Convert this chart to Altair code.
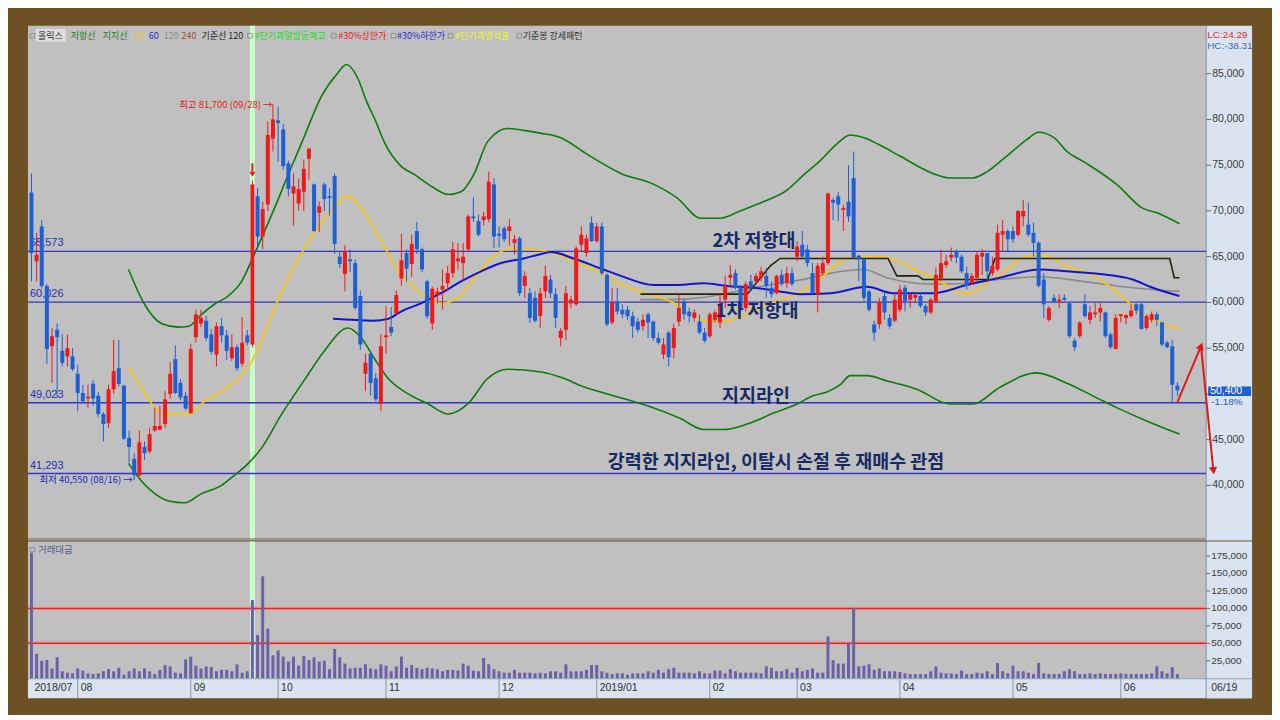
import altair as alt
import pandas as pd

# ---------------- data ----------------
OPEN = [72000,64500,68300,61800,55200,57000,54700,54100,54100,52200,
        50100,49500,51100,49800,47800,46800,50500,52800,50900,45200,
        42900,41100,44200,43700,46000,46100,46700,50000,53800,51200,
        49800,47900,56200,57700,58000,56500,54300,57400,56400,53900,
        55100,53300,56400,55400,71600,67200,70700,77900,79900,78900,
        75200,71900,70800,72100,75700,72900,69800,72900,71600,73800,
        65000,63100,64700,64300,60700,52200,54400,51700,48900,56200,
        57300,58800,62600,65400,64200,67800,65800,62300,57700,60800,
        61400,62100,63200,64500,64300,65800,69400,68900,69000,69100,
        72900,67500,68100,67800,66500,67000,61800,61000,60500,58500,
        61200,62500,60900,56100,57000,59900,59800,66300,65400,68700,
        66700,68300,63000,57800,60100,59200,59200,58500,57900,57400,
        58700,57900,56100,54300,56700,55000,57900,60100,59000,58300,
        57900,56700,56300,58100,57800,60300,62700,63200,61600,59400,
        62300,62300,62700,62900,61600,61000,63000,62100,63200,65000,
        66300,65800,63200,60900,63200,64300,71200,71600,70100,71000,
        73600,65100,64700,61200,57600,57600,60700,58300,58000,59200,
        61600,60300,60500,60700,59600,58900,60100,62500,64100,64900,
        65600,65000,63200,62100,62700,65000,65400,63200,63600,67400,
        67800,67800,67400,69400,68500,67600,66500,62500,58100,60500,
        60100,60500,59900,55800,56300,59800,58100,58700,58900,58900,
        56500,54900,58500,58300,58500,59800,59800,57200,58100,58700,
        57800,55600,55200,50900]
HIGH = [74100,67600,69000,62000,57200,57700,56500,56500,55000,53200,
        51000,51000,51500,50200,48000,51000,55900,55900,51000,46000,
        43500,46000,44800,46300,48500,48700,50300,53500,55300,51600,
        50200,55500,59200,59200,58500,57100,57800,58300,57000,56500,
        55400,58400,57000,73300,72500,71000,79800,81700,81400,79500,
        75500,74100,73500,75600,76900,73000,71000,73100,72500,74100,
        65500,66300,65800,64700,61300,54400,54600,52300,56500,59600,
        59500,61300,67500,65800,67400,68800,66000,62500,61700,61600,
        63600,64000,66600,66500,66500,69600,71500,69600,69900,74300,
        73600,68300,68300,69100,67400,67200,63400,61600,61200,61600,
        64000,63000,61600,57200,61800,60700,66100,68300,67400,69400,
        68700,68700,63200,61600,61600,59800,59600,59000,58300,58700,
        58900,58000,56700,56100,56900,57600,60900,60300,59400,59200,
        58700,57200,58900,59200,61000,62900,64100,63600,61900,62300,
        63000,63200,63900,63800,62300,63000,63600,63900,63800,66700,
        67800,66300,64300,64300,65000,72000,71400,72100,70700,75000,
        76500,65200,64900,61400,58000,60500,61200,58700,61000,61900,
        61900,61000,61000,61000,59800,60500,63800,65800,65200,66000,
        65800,65200,63900,63200,65600,65800,65400,65000,68500,69000,
        68000,68300,70100,71200,70900,68700,66700,63200,59600,60900,
        60900,60900,60000,56100,57900,60900,59600,59900,59900,59000,
        56700,58700,58700,58700,59800,59900,59900,58700,59000,59000,
        57900,55800,55900,51300]
LOW = [62300,62300,61500,53300,51200,49600,53000,53000,52500,48100,
       49000,48500,48700,47500,44800,46300,50000,50800,45000,42500,
       40550,41000,42800,43500,45800,46000,46300,49500,50000,49300,
       48200,47800,55600,57300,55800,54300,53000,55600,53700,53600,
       52500,53000,55300,55100,65900,65800,70000,76500,75400,74500,
       71600,68400,70000,70000,73400,67700,67700,70000,69500,65300,
       63800,61200,63300,59200,54800,50300,49800,49200,48100,54400,
       56300,58600,61800,62300,62800,65300,63300,58200,57000,59900,
       59200,61300,62700,63600,62400,65500,68800,67200,68400,68800,
       65900,66000,66600,66200,65200,60700,60500,57800,57800,57200,
       60500,60500,57200,55200,55900,59400,59600,65600,65000,66600,
       66500,63000,57400,57600,58700,58300,58100,56100,56700,56900,
       56100,55800,55400,53800,53000,53900,57400,58100,57800,57900,
       56500,55600,56100,57800,57200,59400,61800,61400,59000,59000,
       61200,61900,62300,60500,60500,60900,61800,61600,61800,64500,
       64900,63900,60900,58900,63000,64100,69000,68900,67800,68800,
       64800,62300,60100,59000,55800,57100,58100,57100,57800,58900,
       59000,59400,60000,59400,58500,58700,59900,62300,63800,64500,
       64300,63200,61400,61900,62300,63000,62300,62900,63400,65600,
       65600,66500,67200,68300,67200,65000,61600,58300,57900,59900,
       59400,60100,56100,54700,56100,58300,57600,58300,57900,56100,
       54900,54900,57800,57600,58300,58700,57000,57000,57800,57400,
       55200,55000,48900,49800]
CLOSE = [65400,65200,61800,54900,56300,56200,53400,55000,52700,50100,
         49200,49700,49500,47800,46700,50500,52500,51100,45100,44200,
         41100,44700,43500,45600,46500,46500,49400,52200,50100,49600,
         48400,54900,58700,58300,56100,54600,57400,56400,54700,55100,
         52800,55600,55600,72900,67200,70200,78300,80000,79600,74900,
         72400,72700,72400,74600,76800,67800,70500,71300,71400,66400,
         64200,65600,64500,59400,55400,53400,51200,49400,55200,56400,
         56700,60800,64600,63700,66400,65800,63600,58500,61500,61200,
         61800,63200,65800,64800,65000,69400,69200,67400,69400,73200,
         67200,67300,66900,68300,66900,61000,62900,58300,58000,61000,
         62900,61000,58300,56900,61000,60300,65900,67400,67000,66700,
         68300,63200,57600,60000,59000,58700,58500,57400,57000,58100,
         57800,56100,55600,55400,54000,57200,59400,58700,58500,58900,
         56700,55800,58700,58900,59800,61800,63000,61600,59400,62000,
         61600,62900,63400,61800,60900,62900,62000,63200,62000,66100,
         65000,64300,61000,64000,64300,71900,70900,70700,70300,69400,
         64900,64700,60500,59200,56700,60000,58900,57400,60300,61400,
         60100,60900,60800,59600,58900,60300,63000,64300,64500,65200,
         64900,63400,61800,62900,65200,65400,63400,64000,67600,67800,
         66900,66900,70000,70000,67400,66500,61800,59800,59400,60100,
         60300,60300,56300,55100,57800,58500,58900,58900,59400,56300,
         55100,58300,58700,58600,59100,59100,57100,58500,58700,58100,
         55400,55100,51000,50400]
VOLUME_K = [180,35,25,26,14,30,10,8,7,14,
            11,7,6,7,10,13,10,15,5,10,
            14,10,14,10,6,12,19,17,8,7,
            27,31,18,14,17,16,10,12,12,10,
            20,8,10,112,62,146,71,33,40,31,
            24,31,18,32,26,30,24,25,13,42,
            30,21,14,15,15,20,14,13,20,18,
            10,17,31,15,19,15,13,15,14,13,
            10,12,12,11,21,18,11,10,29,20,
            13,10,8,8,12,8,8,8,7,8,
            7,10,10,8,20,10,10,10,12,19,
            19,10,8,6,7,7,5,7,7,7,
            10,8,12,8,13,15,8,8,8,7,
            10,7,7,11,11,7,13,10,8,8,
            8,8,7,17,15,10,10,13,8,15,
            10,12,14,8,8,60,26,21,21,50,
            101,17,18,20,12,14,10,10,10,9,
            7,6,6,6,6,10,17,8,7,7,
            6,11,6,6,8,7,10,6,22,10,
            7,18,10,10,8,6,22,7,6,6,
            6,10,13,10,6,6,7,6,7,6,
            6,6,7,6,6,6,6,6,7,17,
            10,7,16,6]

LEVELS = [65573, 60026, 49023, 41293]
VOL_LEVELS = [100000, 50000]
PRICE_TICKS = [40000, 45000, 50000, 55000, 60000, 65000, 70000, 75000, 80000, 85000]
VOL_TICKS = [25000, 50000, 75000, 100000, 125000, 150000, 175000]
MONTH_START = [0, 9, 31, 48, 69, 91, 110, 132, 149, 169, 191, 212]
MONTH_LABEL = ["2018/07", "08", "09", "10", "11", "12", "2019/01", "02", "03", "04", "05", "06"]
HIGHLIGHT_DAY = [43]
LAST_PRICE = 50400

UPPER_BAND = [(18.9, 63600), (22.0, 59800), (25.3, 57700), (28.6, 57300), (30.6, 57400), (33.1, 58700),
              (35.6, 59800), (38.3, 60700), (40.9, 62300), (43.4, 65300), (47.3, 70300), (50.0, 74000),
              (53.0, 78000), (56.4, 82500), (59.5, 85000), (61.3, 86000), (63.5, 84500), (65.2, 82000),
              (67.0, 79800), (68.6, 77600), (71.9, 74900), (74.5, 74000), (77.8, 72700), (81.1, 71800),
              (83.6, 72100), (86.1, 74000), (88.8, 77600), (92.7, 79000), (95.8, 78800), (99.0, 78500),
              (103.0, 78000), (108.1, 76200), (114.7, 74100), (121.1, 72900), (125.7, 71400), (130.2, 69200),
              (134.1, 69200), (137.9, 70000), (142.4, 71000), (147.1, 72300), (150.0, 73800), (153.5, 75500),
              (156.7, 77300), (159.3, 78300), (162.0, 78000), (165.1, 77200), (169.0, 76000), (175.4, 74100),
              (178.7, 73600), (183.2, 73600), (186.0, 74300), (189.8, 76000), (193.7, 77800), (196.0, 78600),
              (199.0, 78000), (201.5, 76500), (205.0, 75300), (211.2, 72900), (216.2, 70300), (219.5, 69700),
              (223.4, 68600)]
LOWER_BAND = [(18.9, 42400), (20.5, 41100), (24.0, 39100), (26.7, 38300), (29.8, 38100), (33.1, 39100),
              (37.0, 40000), (39.5, 41100), (42.2, 42400), (44.8, 44100), (48.6, 47700), (53.1, 51500),
              (57.0, 54700), (61.6, 57200), (64.2, 56100), (66.7, 53900), (69.4, 51700), (73.3, 50000),
              (77.2, 48900), (81.1, 47800), (84.9, 48900), (88.8, 51700), (92.7, 52700), (99.2, 52400),
              (103.6, 51700), (106.9, 50900), (113.3, 49800), (119.9, 48700), (126.3, 47300), (130.8, 46100),
              (134.6, 46100), (139.3, 46700), (144.4, 47900), (149.0, 48900), (152.1, 49800), (154.8, 50200),
              (157.4, 51000), (159.3, 52000), (162.6, 52000), (166.5, 51400), (172.3, 50500), (178.7, 48900),
              (183.2, 48900), (188.4, 50700), (195.6, 52300), (201.4, 51200), (207.9, 49400), (211.2, 48500),
              (217.6, 46900), (223.4, 45600)]
MA20 = [(18.9, 52800), (21.5, 50600), (24.0, 48500), (26.7, 47800), (30.6, 47800), (33.7, 49200),
        (37.0, 50300), (40.3, 51700), (42.8, 53500), (45.3, 56500), (48.0, 60300), (51.2, 64000),
        (54.5, 67200), (57.7, 69600), (61.6, 71600), (64.2, 70300), (68.1, 66700), (71.4, 63400),
        (74.5, 61600), (79.7, 59900), (83.0, 60500), (86.1, 62600), (89.4, 64800), (92.7, 65800),
        (97.0, 65800), (100.2, 65600), (105.5, 64500), (110.8, 63200), (114.1, 62100), (118.5, 61200),
        (124.4, 60100), (128.8, 58700), (131.5, 57900), (135.4, 58000), (139.3, 58700), (143.2, 59800),
        (147.1, 60500), (151.0, 61600), (153.5, 62600), (157.4, 64400), (161.3, 65000), (166.5, 64900),
        (170.4, 64000), (176.8, 62300), (180.1, 61200), (182.6, 61000), (185.9, 62100), (189.8, 63600),
        (193.7, 65000), (196.8, 65200), (201.4, 64000), (206.5, 63000), (211.7, 60900), (216.2, 58700),
        (220.1, 57700), (223.4, 57100)]
MA60 = [(58.7, 58200), (66.5, 58000), (69.4, 58200), (71.9, 59000), (75.8, 59900), (79.7, 61000),
        (83.6, 62300), (87.5, 63400), (91.4, 64300), (95.8, 64800), (99.2, 65300), (101.1, 65500),
        (105.5, 64800), (110.8, 63700), (114.7, 62900), (121.1, 61900), (125.7, 61900), (130.8, 62100),
        (135.4, 61800), (140.5, 61600), (145.7, 61200), (149.6, 60900), (155.6, 61000), (162.6, 61700),
        (167.7, 61000), (175.4, 61000), (182.0, 61900), (188.4, 62700), (196.2, 63600), (201.4, 63400),
        (207.9, 63100), (214.3, 62500), (218.2, 61600), (223.4, 60700)]
MA120 = [(118.5, 60300), (124.4, 60300), (130.2, 60500), (135.4, 61000), (140.5, 61600), (145.7, 62100),
         (151.0, 62600), (155.6, 63200), (161.9, 63600), (166.5, 62700), (175.4, 62000), (182.0, 62100),
         (188.4, 62500), (196.2, 62800), (204.6, 62300), (214.3, 61600), (223.4, 61200)]
BASE120 = [(118.5, 60900), (139.3, 60900), (140.3, 61600), (143.8, 64000), (145.7, 64800), (166.7, 64800),
           (168.4, 62900), (172.5, 62900), (173.5, 62500), (186.1, 62500), (187.5, 64800), (221.5, 64800),
           (222.4, 62700), (223.4, 62700)]
ARROW = [(223, 49100), (227.6, 55230), (230.0, 41600)]

LEGEND_TEXT = ["올릭스", "저항선", "지지선", "20", "60", "120", "240", "기준선 120",
               "#단기과열발동예고", "#30%상한가", "#30%하한가", "#단기과열적출", "기준봉 강세패턴"]
LEGEND_COLOR = ["#1e1e1e", "#1f7a1f", "#1f7a1f", "#e8c030", "#2a2ad0", "#8c8c8c", "#9a5030", "#1e1e1e",
                "#22dd22", "#e02020", "#2a2ad0", "#f4f430", "#2e2e2e"]

# ---------------- layout / style ----------------
W, H, VH, STRIP_W, XSTRIP_H = 1181, 514, 137, 46, 20
LEGEND_PX = [10, 43, 75, 107, 121, 136, 154, 174, 227, 311, 370, 428, 496]
LEGEND_BOX_PX = [4.5, 222.5, 306.5, 366.5, 423.5, 492.5]
BROWN = "#6d5124"
PLOT_BG = "#c0c0c0"
STRIP_C = "#dae4f1"
UP_C, DOWN_C = "#f01818", "#1c5fd6"
NARROW = "Liberation Sans Narrow, Arial Narrow, Liberation Sans, sans-serif"
KR = "Noto Sans CJK KR"
NAVY = "#172a63"
AXIS_TXT = "#3a3a3a"

N = len(CLOSE)
candles = pd.DataFrame({"i": list(range(N)), "open": OPEN, "high": HIGH, "low": LOW,
                        "close": CLOSE, "vol": [v * 1000 for v in VOLUME_K]})
candles["dir"] = ["up" if c >= o else "down" for o, c in zip(OPEN, CLOSE)]


def knots(pts):
    return pd.DataFrame({"i": [p[0] for p in pts], "v": [p[1] for p in pts]})


def pt(i, v):
    return pd.DataFrame({"i": [i], "v": [v]})


ONE = pd.DataFrame({"k": [0]})
xs = alt.Scale(domain=[-0.68, 228.6], nice=False, zero=False, padding=0)
ys = alt.Scale(domain=[34183, 90234], nice=False, zero=False, padding=0)
vs = alt.Scale(domain=[0, 195714], nice=False, zero=True, padding=0)
X = alt.X("i:Q", scale=xs, axis=None)
PY = alt.Y("v:Q", scale=ys, axis=None)
VY = alt.Y("v:Q", scale=vs, axis=None)
dir_color = alt.Color("dir:N", scale=alt.Scale(domain=["up", "down"], range=[UP_C, DOWN_C]), legend=None)

# ---------------- price panel ----------------
p = []
p.append(alt.Chart(ONE).mark_rect(color=STRIP_C).encode(
    x=alt.value(W), x2=alt.value(W + STRIP_W), y=alt.value(0), y2=alt.value(H + 2)))
p.append(alt.Chart(ONE).mark_rule(color="#8a96aa").encode(
    x=alt.value(W), y=alt.value(0), y2=alt.value(H)))
p.append(alt.Chart(ONE).mark_rect(color="#dedede").encode(
    x=alt.value(8), x2=alt.value(38), y=alt.value(3), y2=alt.value(16)))
p.append(alt.Chart(pd.DataFrame({"i": HIGHLIGHT_DAY})).mark_bar(size=5, color="#c9ffc9").encode(
    x=X, y=alt.value(0), y2=alt.value(H)))
p.append(alt.Chart(ONE).mark_rule(color="#9e9e9e", strokeWidth=2).encode(
    x=alt.value(0), x2=alt.value(W), y=alt.value(H + 1)))
lev = pd.DataFrame({"v": LEVELS})
p.append(alt.Chart(lev).mark_rule(color="#3535c8", strokeWidth=1.4).encode(y=PY))
p.append(alt.Chart(lev).mark_text(align="left", baseline="middle", dy=-8, color="#2c2cb4",
                                  fontSize=11, font=NARROW).encode(
    x=alt.value(2), y=PY, text=alt.Text("v:Q", format=",")))

for pts, col, sw, interp in [(UPPER_BAND, "#0e7a0e", 1.6, "monotone"), (LOWER_BAND, "#0e7a0e", 1.6, "monotone"),
                             (MA120, "#8a8a8a", 1.6, "monotone"), (MA20, "#f5c518", 1.8, "monotone"),
                             (MA60, "#1414c8", 2.0, "monotone"), (BASE120, "#23230c", 1.6, "linear")]:
    p.append(alt.Chart(knots(pts)).mark_line(color=col, strokeWidth=sw, interpolate=interp).encode(x=X, y=PY))

p.append(alt.Chart(candles).mark_rule(strokeWidth=1).encode(
    x=X, y=alt.Y("low:Q", scale=ys, axis=None), y2="high:Q", color=dir_color))
p.append(alt.Chart(candles).mark_bar(size=4).encode(
    x=X, y=alt.Y("open:Q", scale=ys, axis=None), y2="close:Q", color=dir_color))

# price scale (right strip); the label hidden under the last-price box is left out
ptk = pd.DataFrame({"v": PRICE_TICKS})
ptl = pd.DataFrame({"v": [t for t in PRICE_TICKS if abs(t - LAST_PRICE) > 1500]})
p.append(alt.Chart(ptk).mark_rule(color="#6a6a6a").encode(x=alt.value(W), x2=alt.value(W + 5), y=PY))
p.append(alt.Chart(ptl).mark_text(align="left", baseline="middle", color=AXIS_TXT, fontSize=10.5,
                                  font=NARROW).encode(x=alt.value(W + 6), y=PY, text=alt.Text("v:Q", format=",")))

# spike marker
p.append(alt.Chart(pd.DataFrame({"i": HIGHLIGHT_DAY, "v": [75200], "v2": [74300]})).mark_rule(
    color="#e01818", strokeWidth=2).encode(x=X, y=PY, y2="v2:Q"))
p.append(alt.Chart(pt(HIGHLIGHT_DAY[0], 74000)).mark_point(
    shape="triangle-down", filled=True, size=35, color="#e01818", opacity=1).encode(x=X, y=PY))

# high / low notes
p.append(alt.Chart(pt(46.9, 81700)).mark_text(text="최고 81,700 (09/28) →", align="right", baseline="middle",
                                              dy=1, color="#e02020", fontSize=9.5, font=KR).encode(x=X, y=PY))
p.append(alt.Chart(pt(19.7, 40550)).mark_text(text="최저 40,550 (08/16) →", align="right", baseline="middle",
                                              color="#2525c0", fontSize=9.5, font=KR).encode(x=X, y=PY))

# big annotations
for txt, xi, lv, dy in [("2차 저항대", 140.6, LEVELS[0], -10), ("1차 저항대", 141.2, LEVELS[1], 9),
                        ("지지라인", 141.0, LEVELS[2], -7),
                        ("강력한 지지라인, 이탈시 손절 후 재매수 관점", 144.9, LEVELS[3], -12)]:
    p.append(alt.Chart(pt(xi, lv)).mark_text(text=txt, align="center", baseline="middle", dy=dy, color=NAVY,
                                             fontSize=18.5, fontWeight="bold", font=KR).encode(x=X, y=PY))

# red arrows
p.append(alt.Chart(knots(ARROW)).mark_line(color="#e01818", strokeWidth=2, clip=False).encode(x=X, y=PY))
for (ai, av), ang in [(ARROW[1], 21), (ARROW[2], 174)]:
    p.append(alt.Chart(pt(ai, av)).mark_point(shape="triangle-up", filled=True, size=70, angle=ang,
                                              color="#e01818", opacity=1, clip=False).encode(x=X, y=PY))

# last price box
p.append(alt.Chart(pd.DataFrame({"v": [LAST_PRICE - 620], "v2": [LAST_PRICE + 420]})).mark_rect(
    color="#1c5fd6").encode(x=alt.value(W + 2), x2=alt.value(W + 45), y=PY, y2="v2:Q"))
p.append(alt.Chart(pd.DataFrame({"v": [LAST_PRICE]})).mark_text(
    text=f"{LAST_PRICE:,}", align="left", baseline="middle", color="white", dy=1,
    fontSize=10.5, font=NARROW).encode(x=alt.value(W + 4), y=PY))
p.append(alt.Chart(pd.DataFrame({"v": [LAST_PRICE]})).mark_text(
    text="-1.18%", align="left", baseline="middle", dy=12, color="#2a5ab0",
    fontSize=10, font=NARROW).encode(x=alt.value(W + 5), y=PY))

# LC / HC
p.append(alt.Chart(ONE).mark_text(text="LC:24.29", align="left", baseline="middle", color="#e03030",
                                  fontSize=10, font=NARROW).encode(x=alt.value(W + 1), y=alt.value(9)))
p.append(alt.Chart(ONE).mark_text(text="HC:-38.31", align="left", baseline="middle", color="#3a6ab8",
                                  fontSize=10, font=NARROW).encode(x=alt.value(W + 1), y=alt.value(20)))

# legend row
for px in LEGEND_BOX_PX:
    p.append(alt.Chart(ONE).mark_square(size=22, filled=False, color="#7c7c7c", strokeWidth=1).encode(
        x=alt.value(px), y=alt.value(10)))
for t, c, px in zip(LEGEND_TEXT, LEGEND_COLOR, LEGEND_PX):
    p.append(alt.Chart(ONE).mark_text(text=t, color=c, align="left", baseline="middle", fontSize=9,
                                      font=KR).encode(x=alt.value(px), y=alt.value(10)))

price = alt.layer(*p).properties(width=W, height=H)

# ---------------- volume panel ----------------
v = []
v.append(alt.Chart(ONE).mark_rect(color=STRIP_C).encode(
    x=alt.value(W), x2=alt.value(W + STRIP_W), y=alt.value(0), y2=alt.value(VH + XSTRIP_H)))
v.append(alt.Chart(ONE).mark_rect(color=STRIP_C).encode(
    x=alt.value(0), x2=alt.value(W + STRIP_W), y=alt.value(VH), y2=alt.value(VH + XSTRIP_H)))
v.append(alt.Chart(ONE).mark_rule(color="#98a4b8", strokeWidth=1).encode(
    x=alt.value(0), x2=alt.value(W + STRIP_W), y=alt.value(VH + 0.5)))
v.append(alt.Chart(ONE).mark_rule(color="#8a96aa").encode(
    x=alt.value(W), y=alt.value(0), y2=alt.value(VH + XSTRIP_H)))
v.append(alt.Chart(pd.DataFrame({"i": HIGHLIGHT_DAY})).mark_bar(size=5, color="#c9ffc9").encode(
    x=X, y=alt.value(0), y2=alt.value(VH)))
vl = pd.DataFrame({"v": VOL_LEVELS})
v.append(alt.Chart(vl).mark_rule(color="#e3a4a4", strokeWidth=4).encode(y=VY))
v.append(alt.Chart(vl).mark_rule(color="#e02828", strokeWidth=1.5).encode(y=VY))
v.append(alt.Chart(candles).mark_bar(size=3, color="#6a62a8").encode(
    x=X, y=alt.Y("vol:Q", scale=vs, axis=None)))
vtk = pd.DataFrame({"v": VOL_TICKS})
v.append(alt.Chart(vtk).mark_rule(color="#6a6a6a").encode(x=alt.value(W), x2=alt.value(W + 4), y=VY))
v.append(alt.Chart(vtk).mark_text(align="left", baseline="middle", color=AXIS_TXT, fontSize=10,
                                  font=NARROW).encode(x=alt.value(W + 5), y=VY, text=alt.Text("v:Q", format=",")))
v.append(alt.Chart(ONE).mark_square(size=20, filled=False, color="#7c7c9c", strokeWidth=1).encode(
    x=alt.value(4.5), y=alt.value(8)))
v.append(alt.Chart(ONE).mark_text(text="거래대금", align="left", baseline="middle", color="#5a5a8a",
                                  fontSize=9.5, font=KR).encode(x=alt.value(10), y=alt.value(8)))
months = pd.DataFrame({"i": MONTH_START, "label": MONTH_LABEL})
v.append(alt.Chart(months[months["i"] > 0]).mark_rule(color="#8a96aa").encode(
    x=X, y=alt.value(VH), y2=alt.value(VH + XSTRIP_H)))
v.append(alt.Chart(months).mark_text(align="left", baseline="middle", dx=3, color="#303030",
                                     fontSize=10.5, font=NARROW).encode(
    x=X, y=alt.value(VH + 10), text="label:N"))
v.append(alt.Chart(ONE).mark_text(text="06/19", align="left", baseline="middle", color="#303030",
                                  fontSize=10.5, font=NARROW).encode(x=alt.value(W + 5), y=alt.value(VH + 10)))

volume = alt.layer(*v).properties(width=W, height=VH)

chart = alt.vconcat(price, volume, spacing=0).properties(
    background=BROWN,
    padding={"left": 18, "top": 16, "right": 19, "bottom": 15},
).configure_view(fill=PLOT_BG, stroke=None)

chart.save("out.html", embed_options={"renderer": "svg", "actions": False})
